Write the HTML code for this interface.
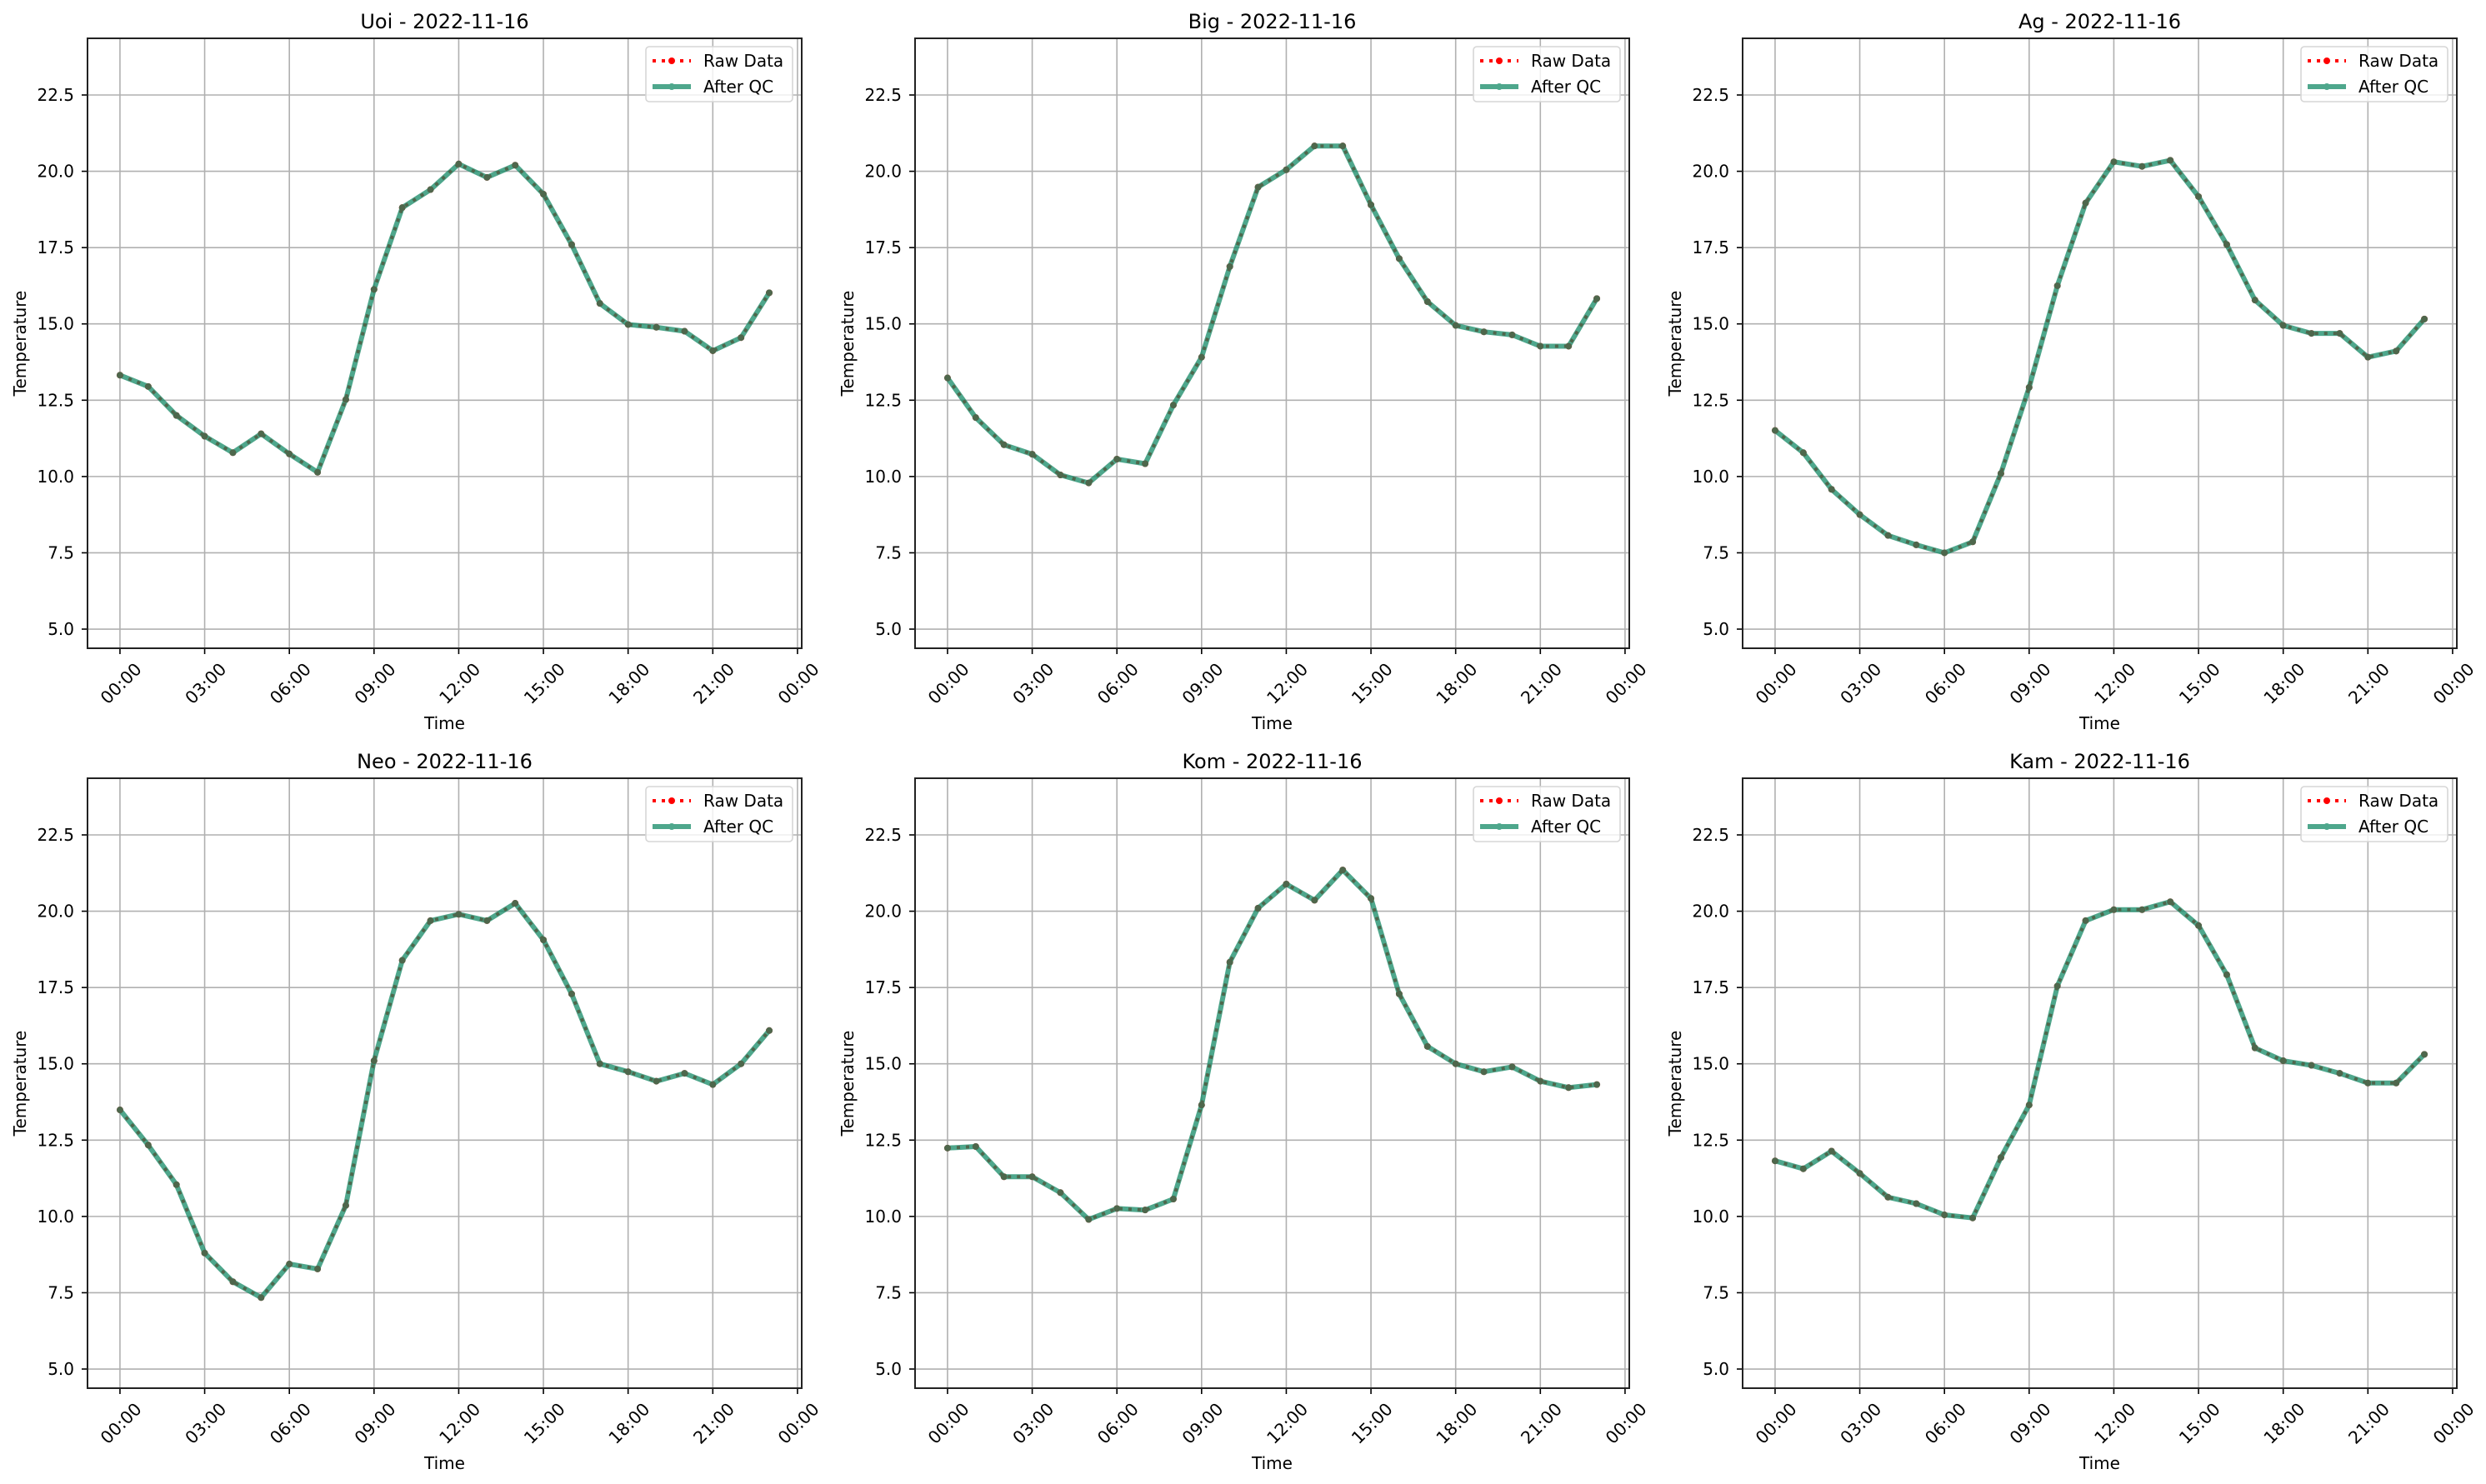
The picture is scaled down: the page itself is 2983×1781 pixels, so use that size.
<!DOCTYPE html>
<html><head><meta charset="utf-8"><style>
html,body{margin:0;padding:0;background:#fff;}
svg{display:block;font-family:"DejaVu Sans","Liberation Sans",sans-serif;}
</style></head><body>
<svg id="s" width="2983" height="1781" xmlns="http://www.w3.org/2000/svg"></svg>
<script>
const panels=[
["Uoi",[13.32,12.95,12.0,11.32,10.78,11.4,10.74,10.14,12.52,16.13,18.81,19.4,20.24,19.8,20.2,19.25,17.6,15.67,14.98,14.89,14.76,14.12,14.55,16.02]],
["Big",[13.23,11.93,11.04,10.73,10.05,9.79,10.57,10.42,12.34,13.91,16.88,19.48,20.05,20.83,20.83,18.9,17.14,15.73,14.95,14.74,14.64,14.27,14.27,15.83]],
["Ag",[11.51,10.78,9.58,8.75,8.07,7.76,7.5,7.86,10.1,12.92,16.25,18.96,20.31,20.16,20.36,19.17,17.6,15.78,14.95,14.69,14.69,13.91,14.11,15.16]],
["Neo",[13.49,12.34,11.04,8.8,7.86,7.34,8.44,8.28,10.36,15.1,18.39,19.69,19.9,19.69,20.26,19.06,17.29,15.0,14.74,14.43,14.69,14.32,15.0,16.09]],
["Kom",[12.24,12.29,11.3,11.3,10.78,9.9,10.26,10.21,10.57,13.65,18.33,20.1,20.89,20.36,21.35,20.42,17.29,15.57,15.0,14.74,14.9,14.43,14.22,14.32]],
["Kam",[11.82,11.56,12.14,11.41,10.63,10.42,10.05,9.95,11.93,13.65,17.55,19.69,20.05,20.05,20.31,19.53,17.92,15.52,15.1,14.95,14.69,14.37,14.37,15.31]]];
const lefts=[105,1098,2091], tops=[46,934], W=857, H=732;
let o='';
panels.forEach((p,i)=>{
 const L=lefts[i%3], T=tops[Math.floor(i/3)], B=T+H, R=L+W;
 const pxh=W/25.3, X=h=>L+(h+1.15)*pxh;
 const py=36.63, Y=v=>T+68+(22.5-v)*py;
 for(let k=0;k<=8;k++){const x=X(k*3);o+=`<line x1="${x}" y1="${T}" x2="${x}" y2="${B}" stroke="#b0b0b0" stroke-width="1.6"/>`;
  o+=`<line x1="${x}" y1="${B}" x2="${x}" y2="${B+7}" stroke="#000" stroke-width="1.6"/>`;
  o+=`<text x="${x+2}" y="${B+43}" font-size="20.5" text-anchor="middle" dominant-baseline="middle" transform="rotate(-45 ${x+2} ${B+43})">${String((k*3)%24).padStart(2,'0')}:00</text>`;}
 for(let v=5;v<=22.5;v+=2.5){const y=Y(v);o+=`<line x1="${L}" y1="${y}" x2="${R}" y2="${y}" stroke="#b0b0b0" stroke-width="1.6"/>`;
  o+=`<line x1="${L-7}" y1="${y}" x2="${L}" y2="${y}" stroke="#000" stroke-width="1.6"/>`;
  o+=`<text x="${L-16}" y="${y+7}" font-size="20" text-anchor="end">${v.toFixed(1)}</text>`;}
 const pts=p[1].map((v,h)=>[X(h),Y(v)]);
 const d=pts.map(q=>q[0].toFixed(1)+','+q[1].toFixed(1)).join(' ');
 o+=`<polyline points="${d}" fill="none" stroke="#ff0000" stroke-width="4" stroke-dasharray="4 7"/>`;
 pts.forEach(q=>o+=`<circle cx="${q[0]}" cy="${q[1]}" r="4" fill="#ff0000"/>`);
 o+=`<g opacity="0.75"><polyline points="${d}" fill="none" stroke="#138a66" stroke-width="6" stroke-linejoin="round"/>`;
 pts.forEach(q=>o+=`<circle cx="${q[0]}" cy="${q[1]}" r="4" fill="#138a66"/>`);
 o+='</g>';
 o+=`<rect x="${L}" y="${T}" width="${W}" height="${H}" fill="none" stroke="#222" stroke-width="2"/>`;
 const lx=R-187, ly=T+10;
 o+=`<rect x="${lx}" y="${ly}" width="176" height="66" rx="4" fill="#fff" fill-opacity="0.8" stroke="#d6d6d6" stroke-width="1.6"/>`;
 o+=`<line x1="${lx+8}" y1="${ly+17}" x2="${lx+54}" y2="${ly+17}" stroke="#f00" stroke-width="4" stroke-dasharray="4 7"/><circle cx="${lx+31}" cy="${ly+17}" r="4" fill="#f00"/>`;
 o+=`<text x="${lx+69}" y="${ly+24}" font-size="20">Raw Data</text>`;
 o+=`<g opacity="0.75"><line x1="${lx+8}" y1="${ly+48}" x2="${lx+54}" y2="${ly+48}" stroke="#138a66" stroke-width="6"/><circle cx="${lx+31}" cy="${ly+48}" r="4" fill="#138a66"/></g>`;
 o+=`<text x="${lx+69}" y="${ly+55}" font-size="20">After QC</text>`;
 o+=`<text x="${L+W/2}" y="${T-12}" font-size="24" text-anchor="middle">${p[0]} - 2022-11-16</text>`;
 o+=`<text x="${L+W/2}" y="${B+97}" font-size="20" text-anchor="middle">Time</text>`;
 o+=`<text x="0" y="0" font-size="20" text-anchor="middle" transform="translate(${L-74} ${T+H/2}) rotate(-90)">Temperature</text>`;
});
document.getElementById('s').innerHTML=o;
</script>
</body></html>
